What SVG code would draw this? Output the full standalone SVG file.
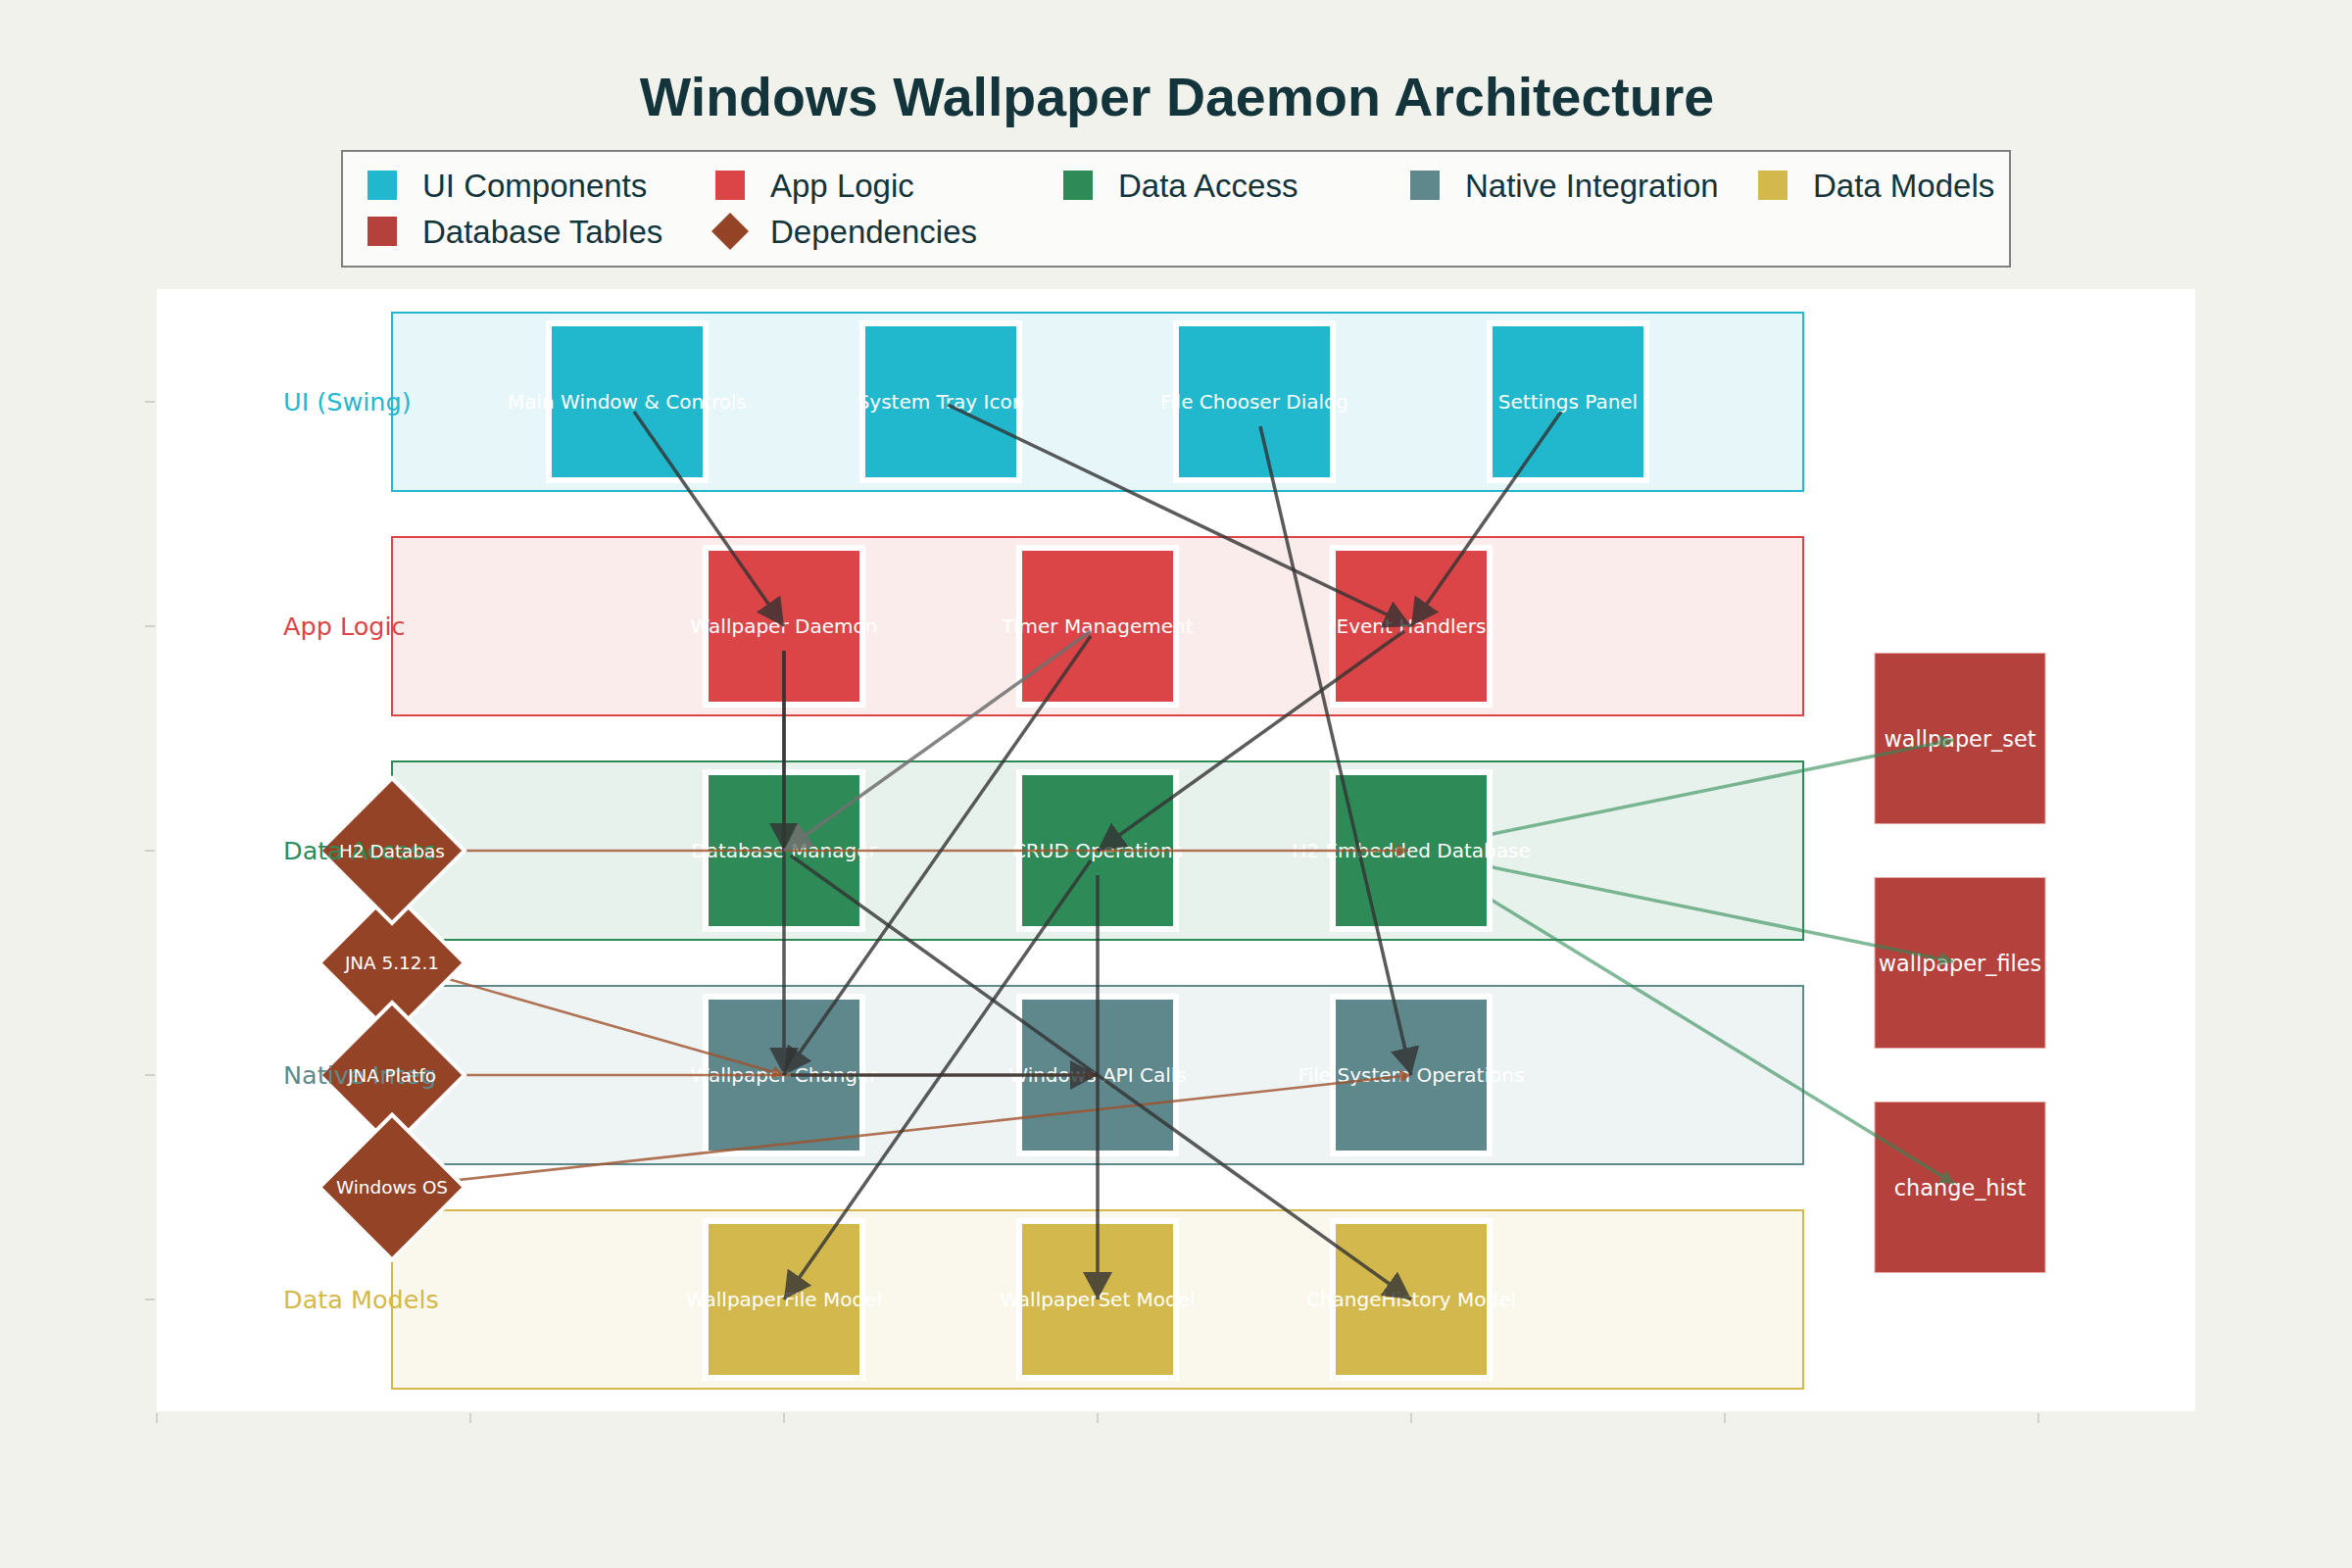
<svg xmlns="http://www.w3.org/2000/svg" width="2400" height="1600" viewBox="0 0 2400 1600">
<defs>
<style>
.title{font-family:"Liberation Sans",Arial,sans-serif;font-weight:bold;font-size:55.5px;fill:#13343b}
.leg{font-family:"Liberation Sans",Arial,sans-serif;font-size:33px;fill:#13343b}
.band{stroke-width:2}
.node{stroke:#ffffff;stroke-width:6}
.nl{font-family:"DejaVu Sans",sans-serif;font-size:20px;fill:#ffffff;text-anchor:middle}
.tl{font-family:"DejaVu Sans",sans-serif;font-size:22.4px;fill:#ffffff;text-anchor:middle}
.dl{font-family:"DejaVu Sans",sans-serif;font-size:18.4px;fill:#ffffff;text-anchor:middle}
.ll{font-family:"DejaVu Sans",sans-serif;font-size:25.5px}
.arr{stroke:#333333;stroke-width:3.5;fill:none;opacity:0.8;marker-end:url(#ah)}
.arrg{stroke:#707070;stroke-width:3.5;fill:none;opacity:0.85;marker-end:url(#ahg)}
.dep{stroke:#a0522d;stroke-width:2.6;fill:none;opacity:0.8;marker-end:url(#ahb)}
.tbl{stroke:#2e8b57;stroke-width:3.5;fill:none;opacity:0.6;marker-end:url(#ahgr)}
.tick{stroke:#d3d0cb;stroke-width:2}
.dia{fill:#954326;stroke:#ffffff;stroke-width:4}
</style>
<marker id="ah" markerUnits="userSpaceOnUse" viewBox="0 0 28 30" markerWidth="28" markerHeight="30" refX="28" refY="15" orient="auto"><path d="M0,0 L28,15 L0,30 z" fill="#333333"/></marker>
<marker id="ahg" markerUnits="userSpaceOnUse" viewBox="0 0 28 30" markerWidth="28" markerHeight="30" refX="28" refY="15" orient="auto"><path d="M0,0 L28,15 L0,30 z" fill="#707070"/></marker>
<marker id="ahb" markerUnits="userSpaceOnUse" viewBox="0 0 12 13" markerWidth="12" markerHeight="13" refX="12" refY="6.5" orient="auto"><path d="M0,0 L12,6.5 L0,13 z" fill="#a0522d"/></marker>
<marker id="ahgr" markerUnits="userSpaceOnUse" viewBox="0 0 14 15" markerWidth="14" markerHeight="15" refX="14" refY="7.5" orient="auto"><path d="M0,0 L14,7.5 L0,15 z" fill="#2e8b57"/></marker>
</defs>

<rect x="0" y="0" width="2400" height="1600" fill="#f2f2ed"/>
<rect x="160" y="295" width="2080" height="1145" fill="#ffffff"/>

<g id="ticks">
<line class="tick" x1="160" y1="1442" x2="160" y2="1452"/>
<line class="tick" x1="480" y1="1442" x2="480" y2="1452"/>
<line class="tick" x1="800" y1="1442" x2="800" y2="1452"/>
<line class="tick" x1="1120" y1="1442" x2="1120" y2="1452"/>
<line class="tick" x1="1440" y1="1442" x2="1440" y2="1452"/>
<line class="tick" x1="1760" y1="1442" x2="1760" y2="1452"/>
<line class="tick" x1="2080" y1="1442" x2="2080" y2="1452"/>
<line class="tick" x1="148" y1="410" x2="158" y2="410"/>
<line class="tick" x1="148" y1="639" x2="158" y2="639"/>
<line class="tick" x1="148" y1="868" x2="158" y2="868"/>
<line class="tick" x1="148" y1="1097" x2="158" y2="1097"/>
<line class="tick" x1="148" y1="1326" x2="158" y2="1326"/>
</g>

<text class="title" x="1201" y="118" text-anchor="middle">Windows Wallpaper Daemon Architecture</text>

<g id="legend">
<rect x="349" y="154" width="1702" height="118" fill="#fbfbf9" stroke="#808080" stroke-width="2"/>
<rect x="375" y="174" width="30" height="30" fill="#21b8cd"/>
<text class="leg" x="431" y="201">UI Components</text>
<rect x="730" y="174" width="30" height="30" fill="#db4547"/>
<text class="leg" x="786" y="201">App Logic</text>
<rect x="1085" y="174" width="30" height="30" fill="#2e8b57"/>
<text class="leg" x="1141" y="201">Data Access</text>
<rect x="1439" y="174" width="30" height="30" fill="#5e888c"/>
<text class="leg" x="1495" y="201">Native Integration</text>
<rect x="1794" y="174" width="30" height="30" fill="#d3b94d"/>
<text class="leg" x="1850" y="201">Data Models</text>
<rect x="375" y="221" width="30" height="30" fill="#b5413c"/>
<text class="leg" x="431" y="248">Database Tables</text>
<path d="M745,217 L764,236 L745,255 L726,236 z" fill="#954326"/>
<text class="leg" x="786" y="248">Dependencies</text>
</g>

<g id="bands">
<rect class="band" x="400" y="319" width="1440" height="182" fill="#e6f6f9" stroke="#22b8cf"/>
<rect class="band" x="400" y="548" width="1440" height="182" fill="#fbecec" stroke="#dc4446"/>
<rect class="band" x="400" y="777" width="1440" height="182" fill="#e8f2ec" stroke="#2e8b57"/>
<rect class="band" x="400" y="1006" width="1440" height="182" fill="#eef3f3" stroke="#5f8a8b"/>
<rect class="band" x="400" y="1235" width="1440" height="182" fill="#faf8ed" stroke="#d4b94a"/>
</g>

<g id="tables">
<g id="t-wallpaper_set"><rect x="1913" y="666.5" width="174" height="174" fill="#b5413c" stroke="#e6a8a4" stroke-width="1"/><text class="tl" x="2000" y="761.5">wallpaper_set</text></g>
<g id="t-wallpaper_files"><rect x="1913" y="895.5" width="174" height="174" fill="#b5413c" stroke="#e6a8a4" stroke-width="1"/><text class="tl" x="2000" y="990.5">wallpaper_files</text></g>
<g id="t-change_hist"><rect x="1913" y="1124.5" width="174" height="174" fill="#b5413c" stroke="#e6a8a4" stroke-width="1"/><text class="tl" x="2000" y="1219.5">change_hist</text></g>
</g>

<g id="table-links">
<path class="tbl" d="M1440,868 L1993.1,754.9"/>
<path class="tbl" d="M1440,868 L1993.1,981.1"/>
<path class="tbl" d="M1440,868 L1994,1207.8"/>
</g>

<g id="nodes">
<g id="n-main-window"><rect class="node" x="560" y="330" width="160" height="160" fill="#21b8cd"/><text class="nl" x="640" y="417">Main Window &amp; Controls</text></g>
<g id="n-system-tray"><rect class="node" x="880" y="330" width="160" height="160" fill="#21b8cd"/><text class="nl" x="960" y="417">System Tray Icon</text></g>
<g id="n-file-chooser"><rect class="node" x="1200" y="330" width="160" height="160" fill="#21b8cd"/><text class="nl" x="1280" y="417">File Chooser Dialog</text></g>
<g id="n-settings"><rect class="node" x="1520" y="330" width="160" height="160" fill="#21b8cd"/><text class="nl" x="1600" y="417">Settings Panel</text></g>

<g id="n-daemon"><rect class="node" x="720" y="559" width="160" height="160" fill="#db4547"/><text class="nl" x="800" y="646">Wallpaper Daemon</text></g>
<g id="n-timer"><rect class="node" x="1040" y="559" width="160" height="160" fill="#db4547"/><text class="nl" x="1120" y="646">Timer Management</text></g>
<g id="n-events"><rect class="node" x="1360" y="559" width="160" height="160" fill="#db4547"/><text class="nl" x="1440" y="646">Event Handlers</text></g>

<g id="n-dbmanager"><rect class="node" x="720" y="788" width="160" height="160" fill="#2e8b57"/><text class="nl" x="800" y="875">Database Manager</text></g>
<g id="n-crud"><rect class="node" x="1040" y="788" width="160" height="160" fill="#2e8b57"/><text class="nl" x="1120" y="875">CRUD Operations</text></g>
<g id="n-h2"><rect class="node" x="1360" y="788" width="160" height="160" fill="#2e8b57"/><text class="nl" x="1440" y="875">H2 Embedded Database</text></g>

<g id="n-changer"><rect class="node" x="720" y="1017" width="160" height="160" fill="#5e888c"/><text class="nl" x="800" y="1104">Wallpaper Changer</text></g>
<g id="n-winapi"><rect class="node" x="1040" y="1017" width="160" height="160" fill="#5e888c"/><text class="nl" x="1120" y="1104">Windows API Calls</text></g>
<g id="n-fso"><rect class="node" x="1360" y="1017" width="160" height="160" fill="#5e888c"/><text class="nl" x="1440" y="1104">File System Operations</text></g>

<g id="n-wfmodel"><rect class="node" x="720" y="1246" width="160" height="160" fill="#d3b94d"/><text class="nl" x="800" y="1333">WallpaperFile Model</text></g>
<g id="n-wsmodel"><rect class="node" x="1040" y="1246" width="160" height="160" fill="#d3b94d"/><text class="nl" x="1120" y="1333">WallpaperSet Model</text></g>
<g id="n-chmodel"><rect class="node" x="1360" y="1246" width="160" height="160" fill="#d3b94d"/><text class="nl" x="1440" y="1333">ChangeHistory Model</text></g>
</g>

<g id="dependency-links">
<path class="dep" d="M400,868 L1437,868"/>
<path class="dep" d="M400,982.5 L800,1097"/>
<path class="dep" d="M400,1097 L1120,1097"/>
<path class="dep" d="M400,1211.5 L1440,1097"/>
</g>

<g id="dependencies">
<g id="d-jna"><path class="dia" d="M400,908.5 L474,982.5 L400,1056.5 L326,982.5 z"/></g>
<g id="d-h2"><path class="dia" d="M400,794 L474,868 L400,942 L326,868 z"/></g>
<g id="d-jnaplat"><path class="dia" d="M400,1023 L474,1097 L400,1171 L326,1097 z"/></g>
<g id="d-winos"><path class="dia" d="M400,1137.5 L474,1211.5 L400,1285.5 L326,1211.5 z"/></g>
</g>

<g id="layer-labels">
<text class="ll" x="289" y="419" fill="#22b8cf">UI (Swing)</text>
<text class="ll" x="289" y="648" fill="#dc4446">App Logic</text>
<text class="ll" x="289" y="877" fill="#2e8b57">Data Access</text>
<text class="ll" x="289" y="1106" fill="#5f8a8b">Native Integ</text>
<text class="ll" x="289" y="1335" fill="#d4b94a">Data Models</text>
</g>

<g id="dependency-labels">
<text class="dl" x="400" y="874.5">H2 Databas</text>
<text class="dl" x="400" y="989">JNA 5.12.1</text>
<text class="dl" x="400" y="1103.5">JNA Platfo</text>
<text class="dl" x="400" y="1218">Windows OS</text>
</g>

<g id="connectors">
<path class="arr" d="M647,420 L800,639"/>
<path class="arr" d="M967,413 L1440,639"/>
<path class="arr" d="M1286,435 L1440,1097"/>
<path class="arr" d="M1593,420 L1440,639"/>
<path class="arr" d="M800,664 L800,868"/>
<path class="arr" d="M800,664 L800,1097"/>
<path class="arrg" d="M1113,644 L800,868"/>
<path class="arr" d="M1113,649 L800,1097"/>
<path class="arr" d="M1433,644 L1120,868"/>
<path class="arr" d="M807,873 L1440,1326"/>
<path class="arr" d="M1113,878 L800,1326"/>
<path class="arr" d="M1120,893 L1120,1326"/>
<path class="arr" d="M807,1097 L1120,1097"/>
</g>
</svg>
